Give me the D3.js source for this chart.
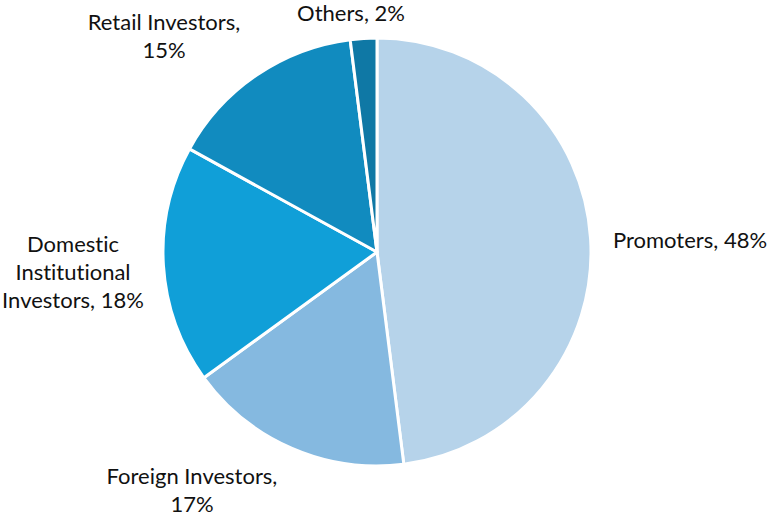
<!DOCTYPE html>
<html><head><meta charset="utf-8">
<script src="https://cdn.jsdelivr.net/npm/d3@7"></script>
<style>body{margin:0;background:#fff}svg{display:block}text{font-family:Lato,"Open Sans",sans-serif;fill:#111;font-variant-ligatures:none}</style>
</head><body>
<script>
const categories = ["Promoters","Foreign Investors","Domestic Institutional Investors","Retail Investors","Others"];
const values = [48,17,18,15,2];
const colors = ["#b6d3ea","#85b9e0","#109fd8","#118bbf","#0f78a5"];
// label lines and anchor positions (layout)
const labelLines = [["Promoters, 48%"],["Foreign Investors,","17%"],["Domestic","Institutional","Investors, 18%"],["Retail Investors,","15%"],["Others, 2%"]];
const labelPos = [[690,240],[192,476],[73,244],[164,22],[351,13]];

const W=769,H=517,cx=377,cy=252,R=214;
const svg=d3.select("body").append("svg").attr("width",W).attr("height",H);
const pie=d3.pie().sort(null).value(d=>d)(values);
const arc=d3.arc().innerRadius(0).outerRadius(R);
const g=svg.append("g").attr("transform",`translate(${cx},${cy})`);
g.selectAll("path").data(pie).join("path").attr("d",arc)
 .attr("fill",(d,i)=>colors[i]).attr("stroke","#fff").attr("stroke-width",3).attr("stroke-linejoin","round");
labelLines.forEach((lines,i)=>{
  const t=svg.append("text").attr("text-anchor","middle").attr("font-size",22);
  lines.forEach((l,j)=>t.append("tspan").attr("x",labelPos[i][0]).attr("y",labelPos[i][1]+j*28).attr("dy","0.35em").text(l));
});
</script>
</body></html>
